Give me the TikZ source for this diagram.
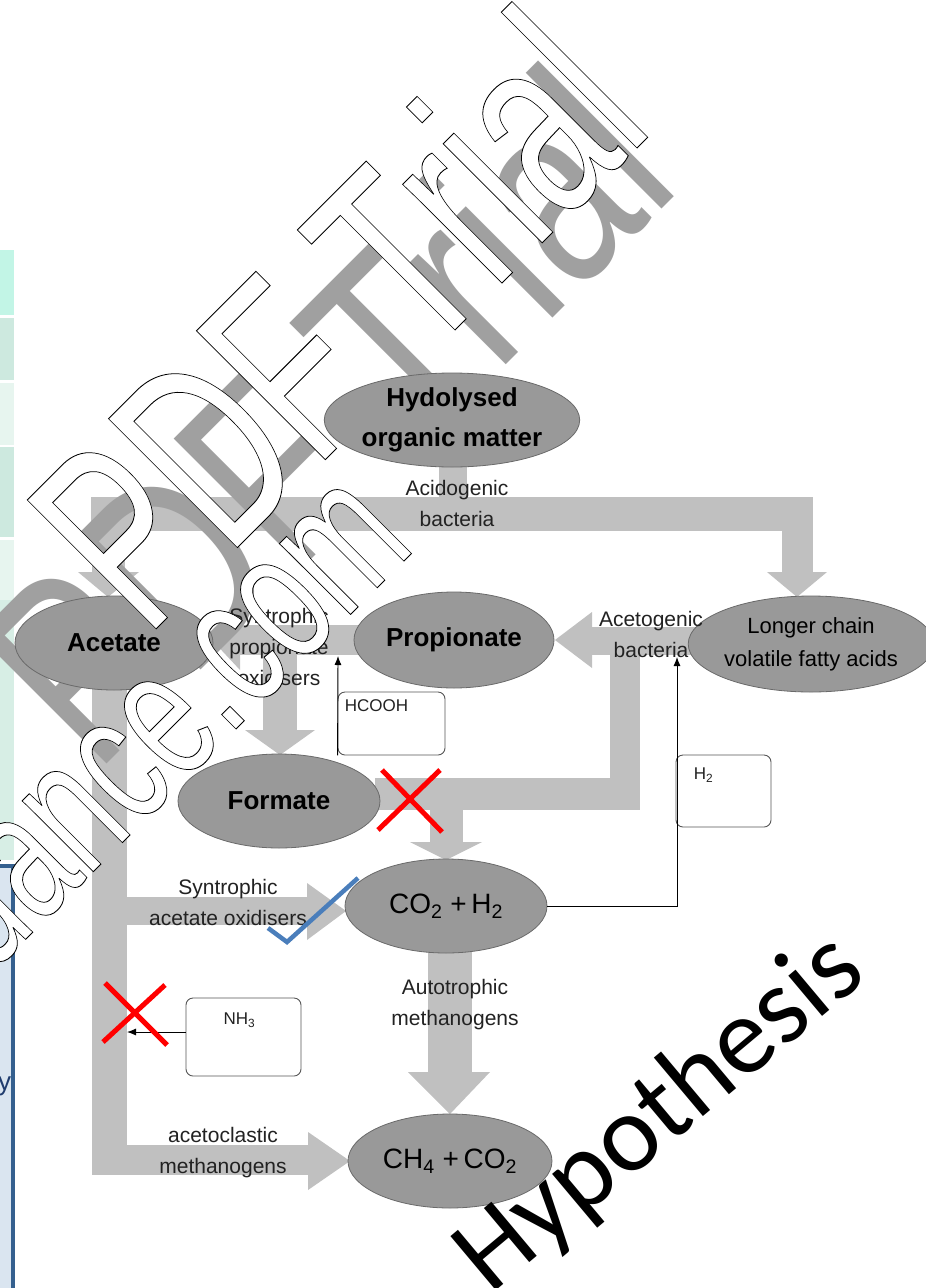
\documentclass[tikz,border=0pt]{standalone}
\usepackage{fontspec}
\setmainfont{Liberation Sans}
\newfontfamily\calib{Carlito}
\usetikzlibrary{shapes.geometric,arrows.meta}
\definecolor{blkfill}{HTML}{C0C0C0}
\definecolor{ellfill}{HTML}{999999}
\definecolor{ellline}{HTML}{6A6A6A}
\definecolor{boxline}{HTML}{555555}
\definecolor{lbltext}{HTML}{222222}
\definecolor{tickblue}{HTML}{4A7EBB}
\definecolor{wmgray}{HTML}{A0A0A0}
\definecolor{stripA}{HTML}{C2F5E6}
\definecolor{stripB}{HTML}{CDE9DF}
\definecolor{stripC}{HTML}{E7F5EF}
\definecolor{slideblue}{HTML}{35608F}
\definecolor{slidefill}{HTML}{DAE5F0}
\definecolor{slidetext}{HTML}{1F3C6E}
\newcommand{\outlinetext}[1]{{\color{white}\special{pdf:literal direct 2 Tr 0.9 w 0 G}#1\special{pdf:literal direct 0 Tr 0.4 w}}}
\newcommand{\narrow}[1]{\scalebox{0.65}[1]{#1}}
\newcommand{\wider}[1]{\scalebox{0.75}[1]{#1}}
\begin{document}
\begin{tikzpicture}[x=1pt,y=-1pt,
  ellnode/.style={ellipse, fill=ellfill, draw=ellline, line width=0.8pt, inner sep=0pt, align=center},
  boldtxt/.style={font=\fontsize{26}{40}\selectfont\bfseries},
  boxnode/.style={draw=boxline, rounded corners=7pt, fill=white, line width=0.9pt, inner sep=0pt},
  boxtxt/.style={font=\fontsize{17}{20}\selectfont, text=lbltext, inner sep=0pt},
  lbl/.style={align=center, font=\fontsize{21}{31}\selectfont, text=lbltext, inner sep=0pt},
  bar/.style={fill=blkfill},
  thinarrow/.style={-{Latex[length=9pt,width=7pt]}, line width=0.9pt, draw=black},
  redx/.style={draw=red, line width=5pt},
  tickmark/.style={draw=tickblue, line width=4.5pt},
  wmark/.style={rotate=45, inner sep=0pt},
]
\useasboundingbox (0,0) rectangle (926,1288);
\fill[white] (0,0) rectangle (926,1288);

% slide remnants on the left
\fill[stripA] (0,250) rectangle (14,315);
\fill[stripB] (0,318) rectangle (14,380);
\fill[stripC] (0,383) rectangle (14,445);
\fill[stripB] (0,447) rectangle (14,537);
\fill[stripC] (0,540) rectangle (14,600);
\fill[stripB!60!stripC] (0,600) rectangle (14,860);
\draw[slideblue, fill=slidefill, line width=3.5pt] (-10,866) rectangle (13,1300);
\node[font=\fontsize{26}{30}\selectfont, text=slidetext, anchor=base west, inner sep=0pt] (yy) at (-2,1090) {y};

% block arrows
% acidogenic
\fill[bar] (439,460) rectangle (467,497);
\fill[bar] (91,497) rectangle (813,531);
\fill[bar] (782,531) rectangle (813,572);
\fill[bar] (767,572) -- (827,572) -- (797,597) -- cycle;
\fill[bar] (92,531) rectangle (125,572);
\fill[bar] (78,572) -- (139,572) -- (108,597) -- cycle;
% syntrophic propionate oxidisers
\fill[bar] (238,625) rectangle (360,655);
\fill[bar] (240,610) -- (240,670) -- (212,640) -- cycle;
\fill[bar] (263,655) rectangle (297,730);
\fill[bar] (245,730) -- (315,730) -- (280,755) -- cycle;
% acetogenic
\fill[bar] (590,627) rectangle (706,655);
\fill[bar] (592,612) -- (592,668) -- (555,640) -- cycle;
\fill[bar] (610,655) rectangle (640,810);
\fill[bar] (375,778) rectangle (640,810);
\fill[bar] (430,810) rectangle (463,842);
\fill[bar] (410,842) -- (482,842) -- (446,860) -- cycle;
% left trunk
\fill[bar] (92,680) rectangle (127,1175);
\fill[bar] (127,897) rectangle (307,925);
\fill[bar] (307,883) -- (307,940) -- (346,911) -- cycle;
\fill[bar] (127,1145) rectangle (308,1175);
\fill[bar] (308,1132) -- (308,1190) -- (350,1161) -- cycle;
% autotrophic
\fill[bar] (428,945) rectangle (472,1072);
\fill[bar] (408,1072) -- (490,1072) -- (450,1114) -- cycle;

% grey watermark (behind the ellipses)
\node[wmark, font=\fontsize{265}{265}\selectfont, text=wmgray, anchor=base] (wm1) at (390,481) {\wider{PDF Trial}};

% ellipses
\node[ellnode, boldtxt, minimum width=224pt, minimum height=94pt] (hyd) at (452,420) {Hydolysed\\organic matter};
\node[ellnode, boldtxt, minimum width=198pt, minimum height=94pt] (acet) at (114,643) {Acetate};
\node[ellnode, boldtxt, minimum width=200pt, minimum height=96pt] (prop) at (454,640) {Propionate};
\node[ellnode, font=\fontsize{22}{33}\selectfont, minimum width=216pt, minimum height=96pt] (lcv) at (811,644) {Longer chain\\volatile fatty acids};
\node[ellnode, boldtxt, minimum width=202pt, minimum height=94pt] (form) at (279,801) {Formate};
\node[ellnode, font=\fontsize{28}{32}\selectfont, minimum width=202pt, minimum height=94pt] (co2) at (446,906) {CO\textsubscript{2} +\,H\textsubscript{2}};
\node[ellnode, font=\fontsize{28}{32}\selectfont, minimum width=204pt, minimum height=94pt] (ch4) at (450,1161) {CH\textsubscript{4} +\,CO\textsubscript{2}};

% labels
\node[lbl] (l1) at (457,503) {Acidogenic\\bacteria};
\node[lbl] (l2) at (279,647) {Syntrophic\\propionate\\oxidisers};
\node[lbl] (l3) at (651,634) {Acetogenic\\bacteria};
\node[lbl] (l4) at (228,902) {Syntrophic\\acetate oxidisers};
\node[lbl] (l5) at (455,1005) {Autotrophic\\methanogens};
\node[lbl] (l6) at (223,1153) {acetoclastic\\methanogens};

% boxes
\node[boxnode, minimum width=107pt, minimum height=63pt] (hcooh) at (391.5,723.5) {};
\node[boxtxt, anchor=north west] (hcoohT) at ([xshift=7pt,yshift=-8pt]hcooh.north west) {HCOOH};
\node[boxnode, minimum width=95pt, minimum height=72pt] (h2) at (723.5,791) {};
\node[boxtxt, anchor=north west] (h2T) at ([xshift=18pt,yshift=-13pt]h2.north west) {H\textsubscript{2}};
\node[boxnode, minimum width=115pt, minimum height=78pt] (nh3) at (243.5,1037) {};
\node[boxtxt, anchor=north] (nh3T) at ([xshift=-4pt,yshift=-15pt]nh3.north) {NH\textsubscript{3}};

% thin arrows
\coordinate (hcoohtip) at (338,656);
\coordinate (h2tip) at (677,657);
\coordinate (nh3tip) at (127,1032);
\draw[thinarrow] (hcooh.south west) -- (hcoohtip);
\draw[thinarrow] (co2.east) -| (h2tip);
\draw[thinarrow] (nh3.west |- nh3tip) -- (nh3tip);

% outlined watermark (on top, white inside)
\node[wmark, font=\fontsize{265}{265}\selectfont, anchor=base] (wm2) at (401,384) {\narrow{\outlinetext{PDF Trial}}};
\node[wmark, font=\fontsize{190}{190}\selectfont, anchor=base west] (wm3) at (-10,975) {\narrow{\outlinetext{uance.com}}};

% marks
\draw[redx] (382,770) -- (442,832) (440,770) -- (378,830);
\draw[redx] (105,983) -- (167,1045) (165,985) -- (103,1042);
\draw[tickmark] (268,928) -- (287,942) -- (358,878);

% Hypothesis
\node[font=\calib\fontsize{110}{114}\selectfont, rotate=40, anchor=base west, inner sep=0pt] (hyp) at (490,1296) {Hypothesis};
\end{tikzpicture}
\end{document}
